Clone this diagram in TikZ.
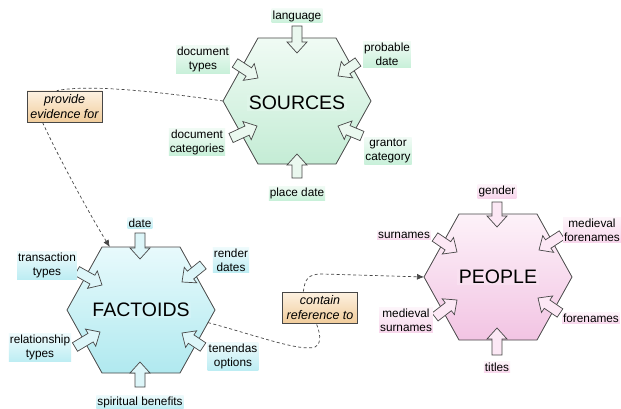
\documentclass[tikz,border=0pt]{standalone}
\usepackage{fontspec}
\setmainfont{Liberation Sans}
\usetikzlibrary{calc,arrows.meta}
\definecolor{srcTop}{HTML}{F0FBF4}
\definecolor{srcBot}{HTML}{C4ECD5}
\definecolor{srcArr}{HTML}{EAF8EF}
\definecolor{srcLbl}{HTML}{C8F0D9}
\definecolor{facTop}{HTML}{E8FAFC}
\definecolor{facBot}{HTML}{B0E9EF}
\definecolor{facArr}{HTML}{DDF6F9}
\definecolor{facLbl}{HTML}{BDEDF3}
\definecolor{pplTop}{HTML}{FDF2F9}
\definecolor{pplBot}{HTML}{F2C4E3}
\definecolor{pplArr}{HTML}{FCE8F5}
\definecolor{pplLbl}{HTML}{F8D6EC}
\definecolor{relTop}{HTML}{FDF1E1}
\definecolor{relBot}{HTML}{F1CD9C}
\definecolor{edge}{HTML}{474747}
\newcommand\hexa[5]{%
  \coordinate (#1) at (#2,#3);
  \coordinate (#1-tl) at ({#2-39},{#3-63});
  \coordinate (#1-tr) at ({#2+39},{#3-63});
  \coordinate (#1-r) at ({#2+74},{#3});
  \coordinate (#1-br) at ({#2+39},{#3+63});
  \coordinate (#1-bl) at ({#2-39},{#3+63});
  \coordinate (#1-l) at ({#2-74},{#3});
  \shade[top color=#4,bottom color=#5,draw=edge,line width=0.8pt,line join=miter]
    (#1-tl)--(#1-tr)--(#1-r)--(#1-br)--(#1-bl)--(#1-l)--cycle;
}
\newcommand\barrow[3]{%
  \coordinate (ba-a) at (#1);
  \coordinate (ba-b) at (#2);
  \coordinate (ba-h) at ($(ba-b)!11pt!(ba-a)$);
  \filldraw[fill=#3,draw=edge,line width=0.7pt,line join=miter]
    ($(ba-a)!5pt!90:(ba-b)$) -- ($(ba-h)!5pt!90:(ba-b)$) -- ($(ba-h)!10pt!90:(ba-b)$)
    -- (ba-b) -- ($(ba-h)!10pt!-90:(ba-b)$) -- ($(ba-h)!5pt!-90:(ba-b)$)
    -- ($(ba-a)!5pt!-90:(ba-b)$) -- cycle;
}
\tikzset{
  lbl/.style={inner xsep=1pt,inner ysep=1.5pt,align=center,font=\fontsize{11.8}{14}\selectfont},
  slbl/.style={lbl,top color=srcLbl!25,bottom color=srcLbl},
  flbl/.style={lbl,top color=facLbl!25,bottom color=facLbl},
  plbl/.style={lbl,top color=pplLbl!25,bottom color=pplLbl},
  big/.style={inner sep=1.5pt,font=\fontsize{19.5}{22}\selectfont},
  relbox/.style={draw=edge,line width=0.8pt,top color=relTop,bottom color=relBot,
    minimum width=75pt,minimum height=31pt,inner sep=0pt,align=center,
    font=\fontsize{12.5}{15}\selectfont\itshape},
  dline/.style={draw=edge,line width=0.7pt,dash pattern=on 3pt off 2.5pt}
}
\begin{document}
\begin{tikzpicture}[x=1pt,y=-1pt]
\useasboundingbox (0,0) rectangle (621,409);
\fill[white] (0,0) rectangle (621,409);
% hexagons
\hexa{S}{297}{101}{srcTop}{srcBot}
\hexa{F}{141}{310}{facTop}{facBot}
\hexa{P}{498}{277}{pplTop}{pplBot}
\node[big,fill=srcTop!60!srcBot] (sources) at (297,103) {SOURCES};
\node[big,fill=facTop!60!facBot] (factoids) at (141,310) {FACTOIDS};
\node[big,fill=pplTop!60!pplBot] (people) at (498,277) {PEOPLE};
% SOURCES arrows and labels
\barrow{297,26}{297,53}{srcArr}
\barrow{235,63}{258,78}{srcArr}
\barrow{358,62}{338,76}{srcArr}
\barrow{231,138}{257,126}{srcArr}
\barrow{362,136}{338,126}{srcArr}
\barrow{297,178}{297,154}{srcArr}
\node[slbl] (s1) at (297,16) {language};
\node[slbl] (s2) at (203,59.5) {document\\types};
\node[slbl] (s3) at (387,54.5) {probable\\date};
\node[slbl] (s4) at (197,142) {document\\categories};
\node[slbl] (s5) at (388,151) {grantor\\category};
\node[slbl] (s6) at (297,193) {place date};
% FACTOIDS arrows and labels
\barrow{140,233}{140,259}{facArr}
\barrow{77,271}{102,285}{facArr}
\barrow{203,265}{182,282}{facArr}
\barrow{75,347}{100,332}{facArr}
\barrow{203,347}{182,333}{facArr}
\barrow{140,387}{140,362}{facArr}
\node[flbl] (f1) at (140,223) {date};
\node[flbl] (f2) at (47,265) {transaction\\types};
\node[flbl] (f3) at (231,260) {render\\dates};
\node[flbl] (f4) at (40,347.5) {relationship\\types};
\node[flbl] (f5) at (233,356) {tenendas\\options};
\node[flbl] (f6) at (140,402) {spiritual benefits};
% PEOPLE arrows and labels
\barrow{497,202}{497,227}{pplArr}
\barrow{435,237}{457,252}{pplArr}
\barrow{562,235}{539,250}{pplArr}
\barrow{435,317}{457,300}{pplArr}
\barrow{560,313}{538,298}{pplArr}
\barrow{497,355}{497,328}{pplArr}
\node[plbl] (p1) at (497,191) {gender};
\node[plbl] (p2) at (404,235) {surnames};
\node[plbl] (p3) at (592,230) {medieval\\forenames};
\node[plbl] (p4) at (406,320) {medieval\\surnames};
\node[plbl] (p5) at (591,318) {forenames};
\node[plbl] (p6) at (497,367) {titles};
% relation boxes
\node[relbox] (pe) at (64.5,106.5) {provide\\evidence for};
\node[relbox] (cr) at (320,307.5) {contain\\reference to};
% connectors
\draw[dline] (S-l) .. controls (160,92) and (90,84) .. ($(pe.north west)!0.4!(pe.north east)$);
\draw[dline,-{Latex[length=7pt,width=6pt]}] ($(pe.south west)!0.21!(pe.south east)$) .. controls (60,160) and (90,215) .. ($(F-tl)!0.1!(F-tr)$);
\draw[dline] ($(F-r)!0.2!(F-br)$) .. controls (255,335) and (300,352) .. (315,347) .. controls (323,343) and (319,330) .. ($(cr.south west)!0.45!(cr.south east)$);
\draw[dline,-{Latex[length=7pt,width=6pt]}] ($(cr.north west)!0.28!(cr.north east)$) .. controls (305,279) and (308,274) .. (322,274) -- (P-l);
\end{tikzpicture}
\end{document}
